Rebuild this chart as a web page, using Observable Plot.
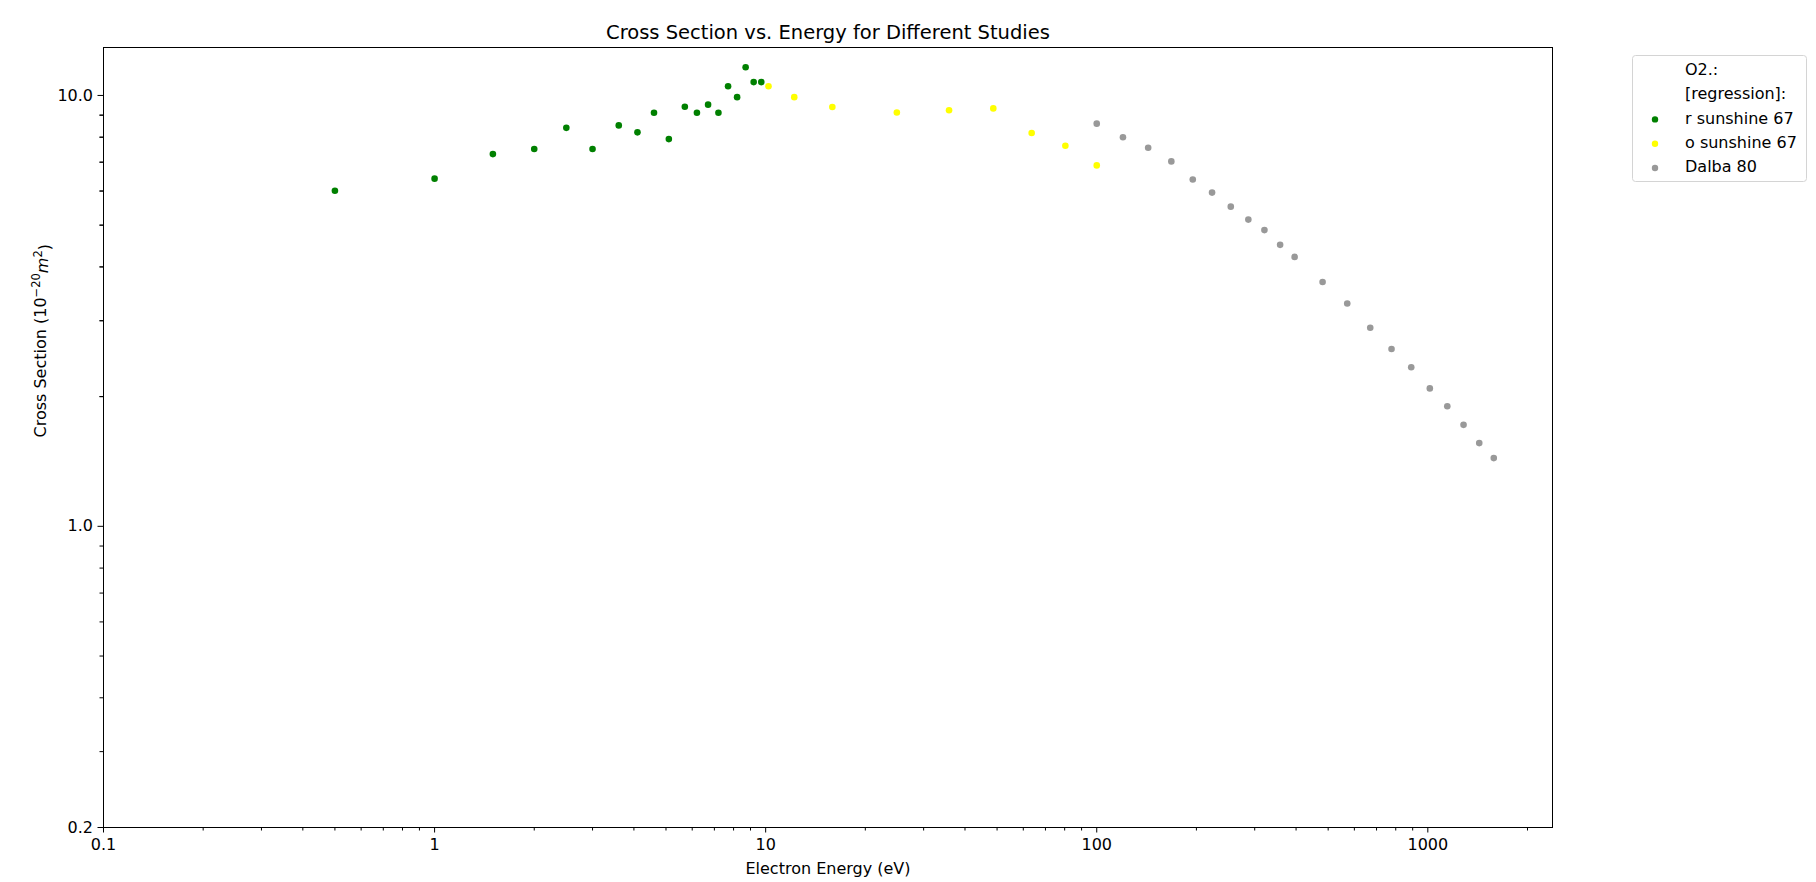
<!DOCTYPE html>
<html>
<head>
<meta charset="utf-8">
<script src="https://cdn.jsdelivr.net/npm/d3@7"></script>
<script src="https://cdn.jsdelivr.net/npm/@observablehq/plot@0.6"></script>
<style>
  html, body { margin: 0; padding: 0; background: #fff; overflow: hidden; }
  #wrap { position: relative; width: 1816px; height: 882px; font-family: "DejaVu Sans", sans-serif; }
  #legend { position: absolute; left: 1632px; top: 55px; }
</style>
</head>
<body>
<div id="wrap"><div id="chart"></div><div id="legend"></div></div>
<script>
// ---- data ----
const studies = ["r sunshine 67", "o sunshine 67", "Dalba 80"];
const studyColors = ["#008000", "#ffff00", "#999999"];

const energyR = [0.5, 1, 1.5, 2, 2.5, 3, 3.6, 4.1, 4.6, 5.1, 5.7, 6.2, 6.7, 7.2, 7.7, 8.2, 8.7, 9.2, 9.7];
const sigmaR  = [6.01, 6.41, 7.31, 7.51, 8.41, 7.51, 8.52, 8.21, 9.12, 7.92, 9.41, 9.12, 9.52, 9.12, 10.5, 9.91, 11.63, 10.74, 10.74];

const energyO = [10.2, 12.2, 15.9, 24.9, 35.8, 48.7, 63.6, 80.4, 100];
const sigmaO  = [10.5, 9.91, 9.40, 9.13, 9.24, 9.33, 8.18, 7.64, 6.88];

const energyD = [100, 120, 143, 168, 195, 223, 254, 287, 321, 358, 396, 481, 571, 670, 777, 891, 1014, 1145, 1282, 1430, 1582];
const sigmaD  = [8.60, 8.00, 7.56, 7.03, 6.38, 5.95, 5.52, 5.15, 4.87, 4.50, 4.22, 3.69, 3.29, 2.89, 2.58, 2.34, 2.09, 1.90, 1.72, 1.56, 1.44];

const xTicks = [0.1, 1, 10, 100, 1000];
const xTickLabels = ["0.1", "1", "10", "100", "1000"];
const yTicks = [0.2, 1, 10];
const yTickLabels = ["0.2", "1.0", "10.0"];
const legendTitle = ["O2.:", "[regression]:"];

const title = "Cross Section vs. Energy for Different Studies";
const xLabel = "Electron Energy (eV)";
const yLabelPlain = "Cross Section (10-20m2)";

// ---- build table ----
const series = [[energyR, sigmaR], [energyO, sigmaO], [energyD, sigmaD]];
const data = series.flatMap(([e, s], k) => e.map((v, i) => ({E: v, S: s[i], study: studies[k]})));

// minor tick positions (log axes)
const minorX = [], minorY = [];
for (const dec of [0.1, 1, 10, 100, 1000]) for (let m = 2; m <= 9; m++) { const v = m * dec; if (v <= 2300) minorX.push(+v.toPrecision(3)); }
for (const dec of [0.1, 1]) for (let m = 2; m <= 9; m++) { const v = m * dec; if (v > 0.2) minorY.push(+v.toPrecision(3)); }

const font = "DejaVu Sans";
const chart = Plot.plot({
  width: 1816,
  height: 882,
  marginLeft: 103,
  marginRight: 264,
  marginTop: 47,
  marginBottom: 55,
  style: {fontFamily: font, fontSize: "16px", background: "white", color: "black"},
  x: {type: "log", domain: [0.1, 2380]},
  y: {type: "log", domain: [0.2, 12.92]},
  color: {domain: studies, range: studyColors},
  marks: [
    Plot.axisX({ticks: minorX, tickFormat: () => "", tickSize: 3.5, label: null, stroke: "black"}),
    Plot.axisX({ticks: xTicks, tickFormat: d => xTickLabels[xTicks.indexOf(d)], tickSize: 5.5, tickPadding: 6, label: null, fontSize: 16, stroke: "black"}),
    Plot.axisY({ticks: minorY.concat([2,3,4,5,6,7,8,9]), tickFormat: () => "", tickSize: 3.5, label: null, stroke: "black"}),
    Plot.axisY({ticks: yTicks, tickFormat: d => yTickLabels[yTicks.indexOf(d)], tickSize: 5.5, tickPadding: 5, label: null, fontSize: 16, stroke: "black"}),
    Plot.dot(data, {x: "E", y: "S", fill: "study", r: 3.3, stroke: null}),
    Plot.frame({stroke: "black", strokeWidth: 1}),
    Plot.text([title], {frameAnchor: "top", lineAnchor: "bottom", dy: -9, fontSize: 19.5, fill: "black"}),
    Plot.text([xLabel], {frameAnchor: "bottom", lineAnchor: "bottom", dy: 46, fontSize: 16, fill: "black"}),
    Plot.text([yLabelPlain], {frameAnchor: "left", rotate: -90, dx: -63, fontSize: 16, fill: "black"})
  ]
});
document.getElementById("chart").appendChild(chart);

// rich y label: 10^{-20} m^2 (italic m)
d3.select(chart).selectAll("text").filter(function() { return this.textContent === yLabelPlain; }).each(function() {
  const t = d3.select(this);
  t.text(null);
  t.append("tspan").text("Cross Section (10");
  t.append("tspan").attr("dy", "-0.45em").attr("font-size", "11.5px").text("\u221220");
  t.append("tspan").attr("dy", "0.45em").attr("font-style", "italic").text("m");
  t.append("tspan").attr("dy", "-0.45em").attr("font-size", "11.5px").text("2");
  t.append("tspan").attr("dy", "0.45em").text(")");
});

// legend
const lg = d3.select("#legend").append("svg").attr("width", 178).attr("height", 130)
  .style("font-family", font).style("font-size", "16px");
lg.append("rect").attr("x", 0.5).attr("y", 0.5).attr("width", 174).attr("height", 126)
  .attr("rx", 3).attr("fill", "white").attr("stroke", "#d4d4d4");
const rows = legendTitle.map(t => ({label: t, color: null})).concat(studies.map((s, i) => ({label: s, color: studyColors[i]})));
rows.forEach((r, i) => {
  const base = 20 + i * 24.3;
  lg.append("text").attr("x", 53).attr("y", base).attr("fill", "black").text(r.label);
  if (r.color) lg.append("circle").attr("cx", 23).attr("cy", base - 4.2).attr("r", 3.2).attr("fill", r.color);
});
</script>
</body>
</html>
